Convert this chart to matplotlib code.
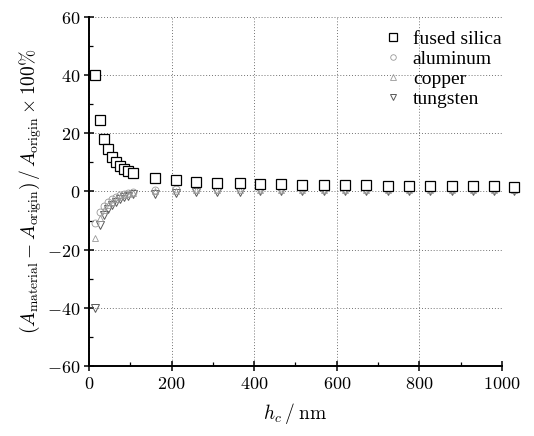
import matplotlib
matplotlib.use('Agg')
import matplotlib.pyplot as plt
from matplotlib.ticker import FuncFormatter, MultipleLocator

plt.rcParams['mathtext.fontset'] = 'cm'

# contact depth (nm) of the indents
hc = [15, 27, 36, 45, 55, 65, 74, 84, 94, 106,
      160, 210, 260, 310, 365, 415, 465, 515, 570,
      620, 670, 725, 775, 825, 880, 930, 980, 1030]

fused_silica = [40, 24.5, 18, 14.5, 12, 10, 8.8, 7.7, 7.0, 6.5,
                4.5, 3.8, 3.3, 3.0, 2.8, 2.6, 2.5, 2.4, 2.3,
                2.2, 2.1, 2.0, 2.0, 1.9, 1.9, 1.8, 1.8, 1.7]
aluminum = [-11, -7, -5, -3.5, -2.5, -1.8, -1.2, -0.8, -0.5, -0.2,
            0.5, 0.8, 1.0, 1.0, 1.1, 1.1, 1.1, 1.1, 1.0,
            1.0, 1.0, 1.0, 1.0, 1.0, 1.0, 1.0, 1.0, 1.0]
copper = [-16, -9, -6.5, -4.5, -3.5, -2.5, -1.8, -1.2, -0.8, -0.5,
          0.0, 0.3, 0.5, 0.5, 0.6, 0.6, 0.6, 0.6, 0.5,
          0.5, 0.5, 0.5, 0.5, 0.5, 0.5, 0.5, 0.5, 0.5]
tungsten = [-40, -11.5, -8, -6, -4.5, -3.5, -2.5, -2.0, -1.5, -1.0,
            -0.8, -0.5, -0.3, -0.2, -0.1, 0, 0, 0, 0,
            0, 0, 0, 0, 0, 0, 0, 0, 0]

fig = plt.figure(figsize=(5.34, 4.36), dpi=100)
ax = fig.add_axes([0.1667, 0.1606, 0.7733, 0.8004])

ax.plot(hc, tungsten, linestyle='none', marker='v', ms=6, mfc='none', mec='0.35',
        mew=0.7, label='tungsten', clip_on=False, zorder=3)
ax.plot(hc, copper, linestyle='none', marker='^', ms=5, mfc='none', mec='0.6',
        mew=0.6, label='copper', clip_on=False, zorder=3)
ax.plot(hc, aluminum, linestyle='none', marker='o', ms=5, mfc='none', mec='0.6',
        mew=0.6, label='aluminum', clip_on=False, zorder=3)
ax.plot(hc, fused_silica, linestyle='none', marker='s', ms=6.5, mfc='white', mec='black',
        mew=0.9, label='fused silica', clip_on=False, zorder=4)

ax.set_xlim(0, 1000)
ax.set_ylim(-60, 60)
ax.xaxis.set_major_locator(MultipleLocator(200))
ax.xaxis.set_minor_locator(MultipleLocator(100))
ax.yaxis.set_major_locator(MultipleLocator(20))
ax.yaxis.set_minor_locator(MultipleLocator(10))
fmt = FuncFormatter(lambda v, p: '$%d$' % round(v))
ax.xaxis.set_major_formatter(fmt)
ax.yaxis.set_major_formatter(fmt)
ax.tick_params(which='major', direction='inout', length=7, width=1.1, labelsize=13, pad=3)
ax.tick_params(which='minor', direction='in', length=3, width=0.9)

for s in ['top', 'right']:
    ax.spines[s].set_visible(False)
for s in ['left', 'bottom']:
    ax.spines[s].set_linewidth(1.4)

ax.grid(True, which='major', linestyle=(0, (1, 2)), color='0.45', linewidth=0.7)

ax.set_xlabel(r'$h_c\,/\;\mathrm{nm}$', fontsize=14, labelpad=6)
ax.set_ylabel(r'$(A_{\mathrm{material}}-A_{\mathrm{origin}})\,/\,A_{\mathrm{origin}}\times100\%$',
              fontsize=14, labelpad=2)

handles, labels = ax.get_legend_handles_labels()
order = [3, 2, 1, 0]
leg = ax.legend([handles[i] for i in order], [labels[i] for i in order],
                loc='upper left', bbox_to_anchor=(0.69, 0.99), frameon=False,
                prop={'family': 'Liberation Serif', 'size': 14}, borderpad=0,
                handletextpad=0.5, labelspacing=0.12, handlelength=1.0, markerscale=0.8)

fig.savefig('out.png', dpi=100)
